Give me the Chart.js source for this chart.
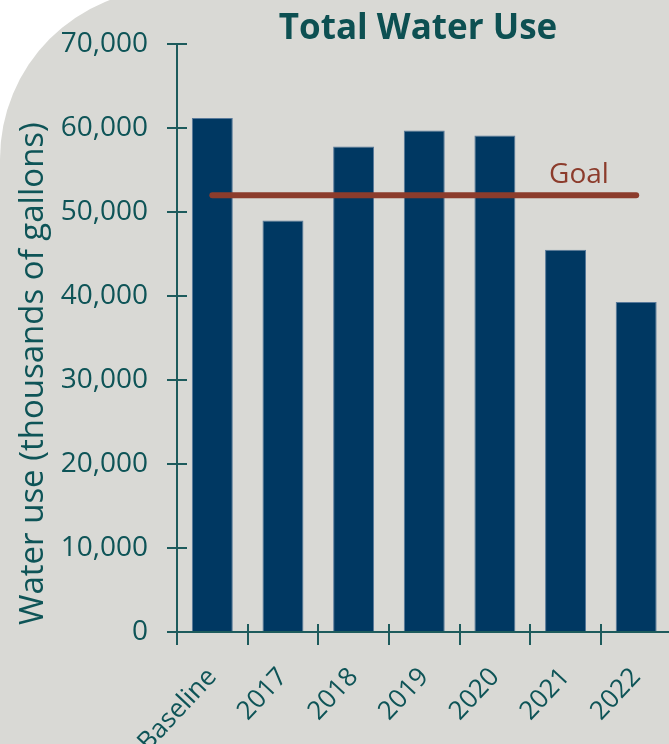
<!DOCTYPE html>
<html>
<head>
<meta charset="utf-8">
<title>Total Water Use</title>
<script src="https://cdn.jsdelivr.net/npm/chart.js@4.4.1/dist/chart.umd.min.js"></script>
<style>
  html, body { margin: 0; padding: 0; background: #ffffff; overflow: hidden; }
  #wrap { width: 676px; height: 744px; position: relative; }
</style>
</head>
<body>
<div id="wrap"><canvas id="waterUse"></canvas></div>
<script>
var years = ["Baseline", "2017", "2018", "2019", "2020", "2021", "2022"];
var waterUse = [61200, 49000, 57800, 59700, 59100, 45500, 39300];
var goalValue = 52000;
var goalLine = [52000, 52000, 52000, 52000, 52000, 52000, 52000];
var yTicks = [0, 10000, 20000, 30000, 40000, 50000, 60000, 70000];
var yTitle = "Water use (thousands of gallons)";

var teal = "#0e5457";
var axisTeal = "#1d5b5c";
var navy = "#003862";
var brick = "#8c3c2c";
var panelGrey = "#d9d9d5";

Chart.defaults.font.family = "'Open Sans', 'DejaVu Sans', sans-serif";
Chart.defaults.color = teal;

// grey panel with the big rounded corner at top-left
var panel = {
  id: "panel",
  beforeDraw: function (chart) {
    var ctx = chart.ctx;
    ctx.save();
    ctx.fillStyle = "#ffffff";
    ctx.fillRect(0, 0, chart.width, chart.height);
    ctx.fillStyle = panelGrey;
    ctx.beginPath();
    ctx.roundRect(0, -11, chart.width + 200, chart.height + 200, 170);
    ctx.fill();
    ctx.restore();
  }
};

// tick marks that cross the axis lines, the titles and the goal label
var extras = {
  id: "extras",
  afterDraw: function (chart) {
    var ctx = chart.ctx;
    var x = chart.scales.x;
    var y = chart.scales.y;
    var area = chart.chartArea;
    ctx.save();
    ctx.strokeStyle = axisTeal;
    ctx.lineWidth = 2;
    ctx.beginPath();
    y.ticks.forEach(function (t, i) {
      var py = Math.round(y.getPixelForTick(i));
      ctx.moveTo(area.left, py);
      ctx.lineTo(area.left + 10, py);
    });
    var half = (x.getPixelForTick(1) - x.getPixelForTick(0)) / 2;
    for (var i = 0; i < years.length; i++) {
      var px = Math.round(x.getPixelForTick(i) - half);
      ctx.moveTo(px, area.bottom);
      ctx.lineTo(px, area.bottom - 8);
    }
    ctx.stroke();

    ctx.fillStyle = "#0d5052";
    ctx.font = "bold 35px 'Open Sans', sans-serif";
    ctx.textAlign = "center";
    ctx.textBaseline = "alphabetic";
    ctx.fillText("Total Water Use", 418, 39);

    ctx.fillStyle = brick;
    ctx.font = "28px 'Open Sans', sans-serif";
    ctx.fillText("Goal", x.getPixelForValue(5.19), y.getPixelForValue(goalValue) - 12);

    // y axis title, reading upward from just above the baseline
    ctx.translate(34, area.bottom - 7);
    ctx.rotate(-Math.PI / 2);
    ctx.fillStyle = teal;
    ctx.font = "33px 'Open Sans', sans-serif";
    ctx.textAlign = "left";
    ctx.textBaseline = "middle";
    ctx.fillText(yTitle, 0, 0);
    ctx.restore();
  }
};

new Chart(document.getElementById("waterUse"), {
  type: "bar",
  data: {
    labels: years,
    datasets: [
      {
        type: "line",
        label: "Goal",
        data: goalLine,
        borderColor: brick,
        borderWidth: 6,
        borderCapStyle: "round",
        pointRadius: 0,
        fill: false,
        order: 0
      },
      {
        label: "Water use",
        data: waterUse,
        backgroundColor: navy,
        borderColor: "#58799a",
        borderWidth: 1,
        barPercentage: 0.58,
        categoryPercentage: 1,
        order: 1
      }
    ]
  },
  options: {
    responsive: true,
    maintainAspectRatio: false,
    animation: false,
    layout: { padding: { top: 44, left: 6, right: 0, bottom: 0 } },
    plugins: {
      legend: { display: false },
      tooltip: { enabled: false }
    },
    scales: {
      x: {
        grid: { drawOnChartArea: false, color: axisTeal, lineWidth: 2, tickLength: 13, offset: true },
        border: { color: axisTeal, width: 2 },
        ticks: { font: { size: 26 }, color: teal, minRotation: 47, maxRotation: 47, padding: 17, autoSkip: false },
        afterFit: function (scale) { scale.height = 112; }
      },
      y: {
        min: 0,
        max: 70000,
        afterBuildTicks: function (scale) {
          scale.ticks = yTicks.map(function (v) { return { value: v }; });
        },
        grid: { drawOnChartArea: false, color: axisTeal, lineWidth: 2, tickLength: 10 },
        border: { color: axisTeal, width: 2 },
        ticks: {
          font: { size: 28 },
          color: teal,
          padding: 19,
          callback: function (v) { return v.toLocaleString("en-US"); }
        },
        afterFit: function (scale) { scale.width = 171; }
      }
    }
  },
  plugins: [panel, extras]
});
</script>
</body>
</html>
